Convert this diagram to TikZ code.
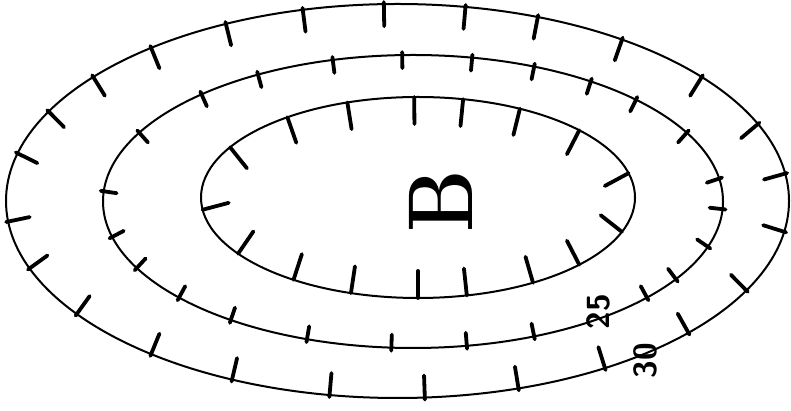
\documentclass[tikz,border=0pt]{standalone}
\usepackage{graphicx}
\begin{document}
\begin{tikzpicture}[x=1pt,y=1pt,
  contour/.style={line width=2pt},
  hach/.style={line width=3.8pt,line cap=round},
  lbl/.style={font=\sffamily\bfseries\fontsize{32}{32}\selectfont,rotate=90,inner sep=0pt}]
\useasboundingbox (0,0) rectangle (791,411);
% #1 cx, #2 cy, #3 rx, #4 ry, #5 out, #6 in, #7 list of angles
\newcommand\hachurering[7]{%
  \foreach \t in {#7}{%
    \pgfmathsetmacro\ang{atan2(#3*sin(\t),#4*cos(\t))}%
    \draw[hach] ({#1+#3*cos(\t)},{#2+#4*sin(\t)}) ++(\ang:#5pt) -- ++(\ang+180:{#5pt+#6pt});
  }}
% outer contour
\draw[contour] (397.5,210) ellipse [x radius=391.5, y radius=197];
\hachurering{397.5}{210}{391.5}{197}{2}{22}{166,153,141,129,116,104,92,80,69,55,39,23,8,-9,-27,-42,-58,-72,-86,-100,-115,-129,-145,-160,-174}
% middle contour
\draw[contour] (413,209.5) ellipse [x radius=310, y radius=146.5];
\hachurering{413}{209.5}{310}{146.5}{3}{13}{176,152,133,120,105,92,79,67,55,44,28,9,-3,-18,-32,-41,-67,-80,-94,-110,-126,-139,-153,-166}
% inner contour
\draw[contour] (418,213.5) ellipse [x radius=217, y radius=100.5];
\hachurering{418}{213.5}{217}{100.5}{0}{27}{150,127,109,91,78,62,42,14,-20,-42,-58,-77,-90,-108,-125,-146,-173}
% labels
\node[lbl] (l25) at (598,99) {25};
\node[lbl] (l30) at (645,50) {30};
\node[rotate=90,inner sep=0pt,font=\bfseries\fontsize{92}{92}\selectfont] (b) at (441,210) {\scalebox{0.85}[1]{B}};
\end{tikzpicture}
\end{document}
